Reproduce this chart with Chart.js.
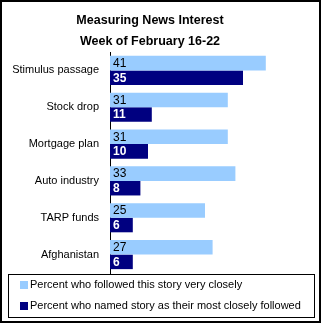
<!DOCTYPE html>
<html>
<head>
<meta charset="utf-8">
<script src="https://cdn.jsdelivr.net/npm/chart.js@4"></script>
<style>
  html, body { margin: 0; padding: 0; background: #fff; }
  #wrap { width: 322px; height: 325px; position: relative; }
</style>
</head>
<body>
<div id="wrap"><canvas id="c" width="322" height="325"></canvas></div>
<script>
const titleLines = ['Measuring News Interest', 'Week of February 16-22'];
const categories = ['Stimulus passage', 'Stock drop', 'Mortgage plan', 'Auto industry', 'TARP funds', 'Afghanistan'];
const followedVeryClosely = [41, 31, 31, 33, 25, 27];
const namedMostClosely = [35, 11, 10, 8, 6, 6];
const seriesLabels = ['Percent who followed this story very closely', 'Percent who named story as their most closely followed'];
const seriesColors = ['#99CCFF', '#000080'];

const FONT = 'Liberation Sans';
Chart.defaults.font.family = FONT;
Chart.defaults.color = '#000';

const valueLabels = {
  id: 'valueLabels',
  afterDatasetsDraw(chart) {
    const ctx = chart.ctx;
    ctx.save();
    ctx.textBaseline = 'middle';
    ctx.textAlign = 'left';
    chart.data.datasets.forEach((ds, di) => {
      const meta = chart.getDatasetMeta(di);
      meta.data.forEach((bar, i) => {
        ctx.fillStyle = di === 0 ? '#000' : '#fff';
        ctx.font = (di === 0 ? '' : 'bold ') + '12px "' + FONT + '"';
        ctx.fillText(String(ds.data[i]), bar.base + 3, bar.y + 0.5);
      });
    });
    ctx.restore();
  }
};

const frameAndLegend = {
  id: 'frameAndLegend',
  afterDraw(chart) {
    const ctx = chart.ctx;
    ctx.save();
    // outer frame
    ctx.strokeStyle = '#000';
    ctx.lineWidth = 2;
    ctx.strokeRect(1, 1, 319, 321);
    // legend box
    ctx.lineWidth = 1;
    ctx.strokeRect(8.5, 274.5, 306, 43);
    ctx.font = '11px "' + FONT + '"';
    ctx.textBaseline = 'middle';
    ctx.textAlign = 'left';
    chart.data.datasets.forEach((ds, di) => {
      const y = 285 + di * 21;
      ctx.fillStyle = ds.backgroundColor;
      ctx.fillRect(20, y - 4, 8, 8);
      ctx.fillStyle = '#000';
      ctx.fillText(ds.label, 30, y);
    });
    ctx.restore();
  }
};

new Chart(document.getElementById('c'), {
  type: 'bar',
  data: {
    labels: categories,
    datasets: [
      { label: seriesLabels[0], data: followedVeryClosely, backgroundColor: seriesColors[0] },
      { label: seriesLabels[1], data: namedMostClosely, backgroundColor: seriesColors[1] }
    ]
  },
  options: {
    indexAxis: 'y',
    responsive: false,
    animation: false,
    devicePixelRatio: 1,
    datasets: { bar: { categoryPercentage: 0.79, barPercentage: 1, borderWidth: 0 } },
    layout: { padding: { top: 0, left: 0, right: 22, bottom: 52 } },
    plugins: {
      legend: { display: false },
      tooltip: { enabled: false },
      title: {
        display: true,
        text: titleLines,
        color: '#000',
        font: { family: FONT, size: 12.5, weight: 'bold', lineHeight: 1.68 },
        padding: { top: 10, bottom: 0 }
      }
    },
    scales: {
      x: { display: false, min: 0, max: 50 },
      y: {
        grid: { display: false, drawTicks: false },
        border: { display: true, color: '#000', width: 1 },
        ticks: { color: '#000', font: { family: FONT, size: 11 }, padding: 11 },
        afterFit(scale) { scale.width = 110; }
      }
    }
  },
  plugins: [valueLabels, frameAndLegend]
});
</script>
</body>
</html>
